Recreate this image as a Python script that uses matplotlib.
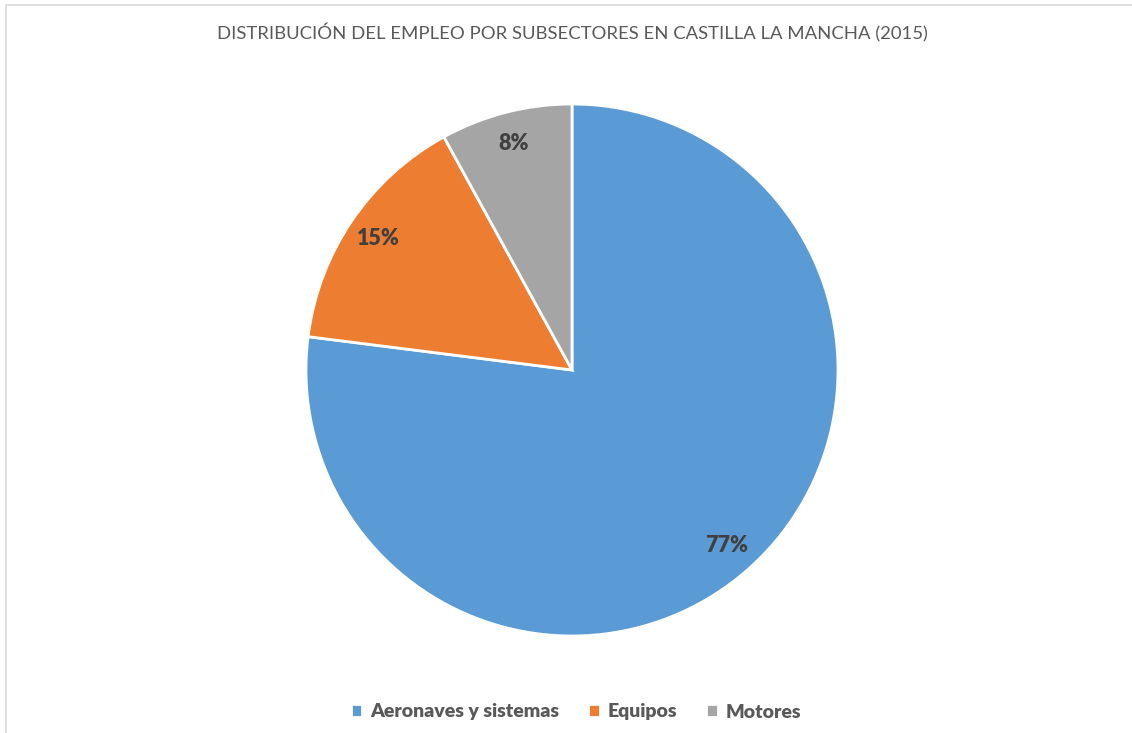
import matplotlib.pyplot as plt
from matplotlib.patches import Rectangle

categories = ["Aeronaves y sistemas", "Equipos", "Motores"]
values = [77, 15, 8]
colors = ["#5B9BD5", "#ED7D31", "#A5A5A5"]
title = "DISTRIBUCIÓN DEL EMPLEO POR SUBSECTORES EN CASTILLA LA MANCHA (2015)"

plt.rcParams['font.family'] = ['Lato', 'DejaVu Sans']

W, H = 1132, 733
fig = plt.figure(figsize=(W / 100, H / 100), dpi=100)

# marco del gráfico (borde gris claro)
fig.patches.append(Rectangle((6 / W, -0.1), 1.2, 1 - 5 / H + 0.1, transform=fig.transFigure,
                             fill=False, edgecolor="#D9D9D9", linewidth=1.2))

cx, cy, r = 572, 370, 266
ax = fig.add_axes([(cx - r) / W, 1 - (cy + r) / H, 2 * r / W, 2 * r / H])
wedges, texts, autotexts = ax.pie(values, colors=colors, startangle=90, counterclock=False,
                                  radius=1, autopct="%d%%", pctdistance=0.88,
                                  wedgeprops=dict(edgecolor="white", linewidth=2),
                                  textprops=dict(color="#404040", fontsize=15.5, fontweight="heavy"))
ax.set_xlim(-1, 1)
ax.set_ylim(-1, 1)
ax.set_aspect("equal")
ax.axis("off")

fig.text(572 / W, 1 - 33 / H, title, ha="center", va="center", fontsize=13.3, color="#595959")

fig.legend(wedges, categories, loc="center", bbox_to_anchor=(576 / W, 1 - 712 / H), ncol=3,
           frameon=False, handlelength=0.6, handleheight=0.6, handletextpad=0.4, columnspacing=1.5,
           prop=dict(size=14, weight="heavy"), labelcolor="#595959")

fig.savefig("out.png", dpi=100, facecolor="white")
